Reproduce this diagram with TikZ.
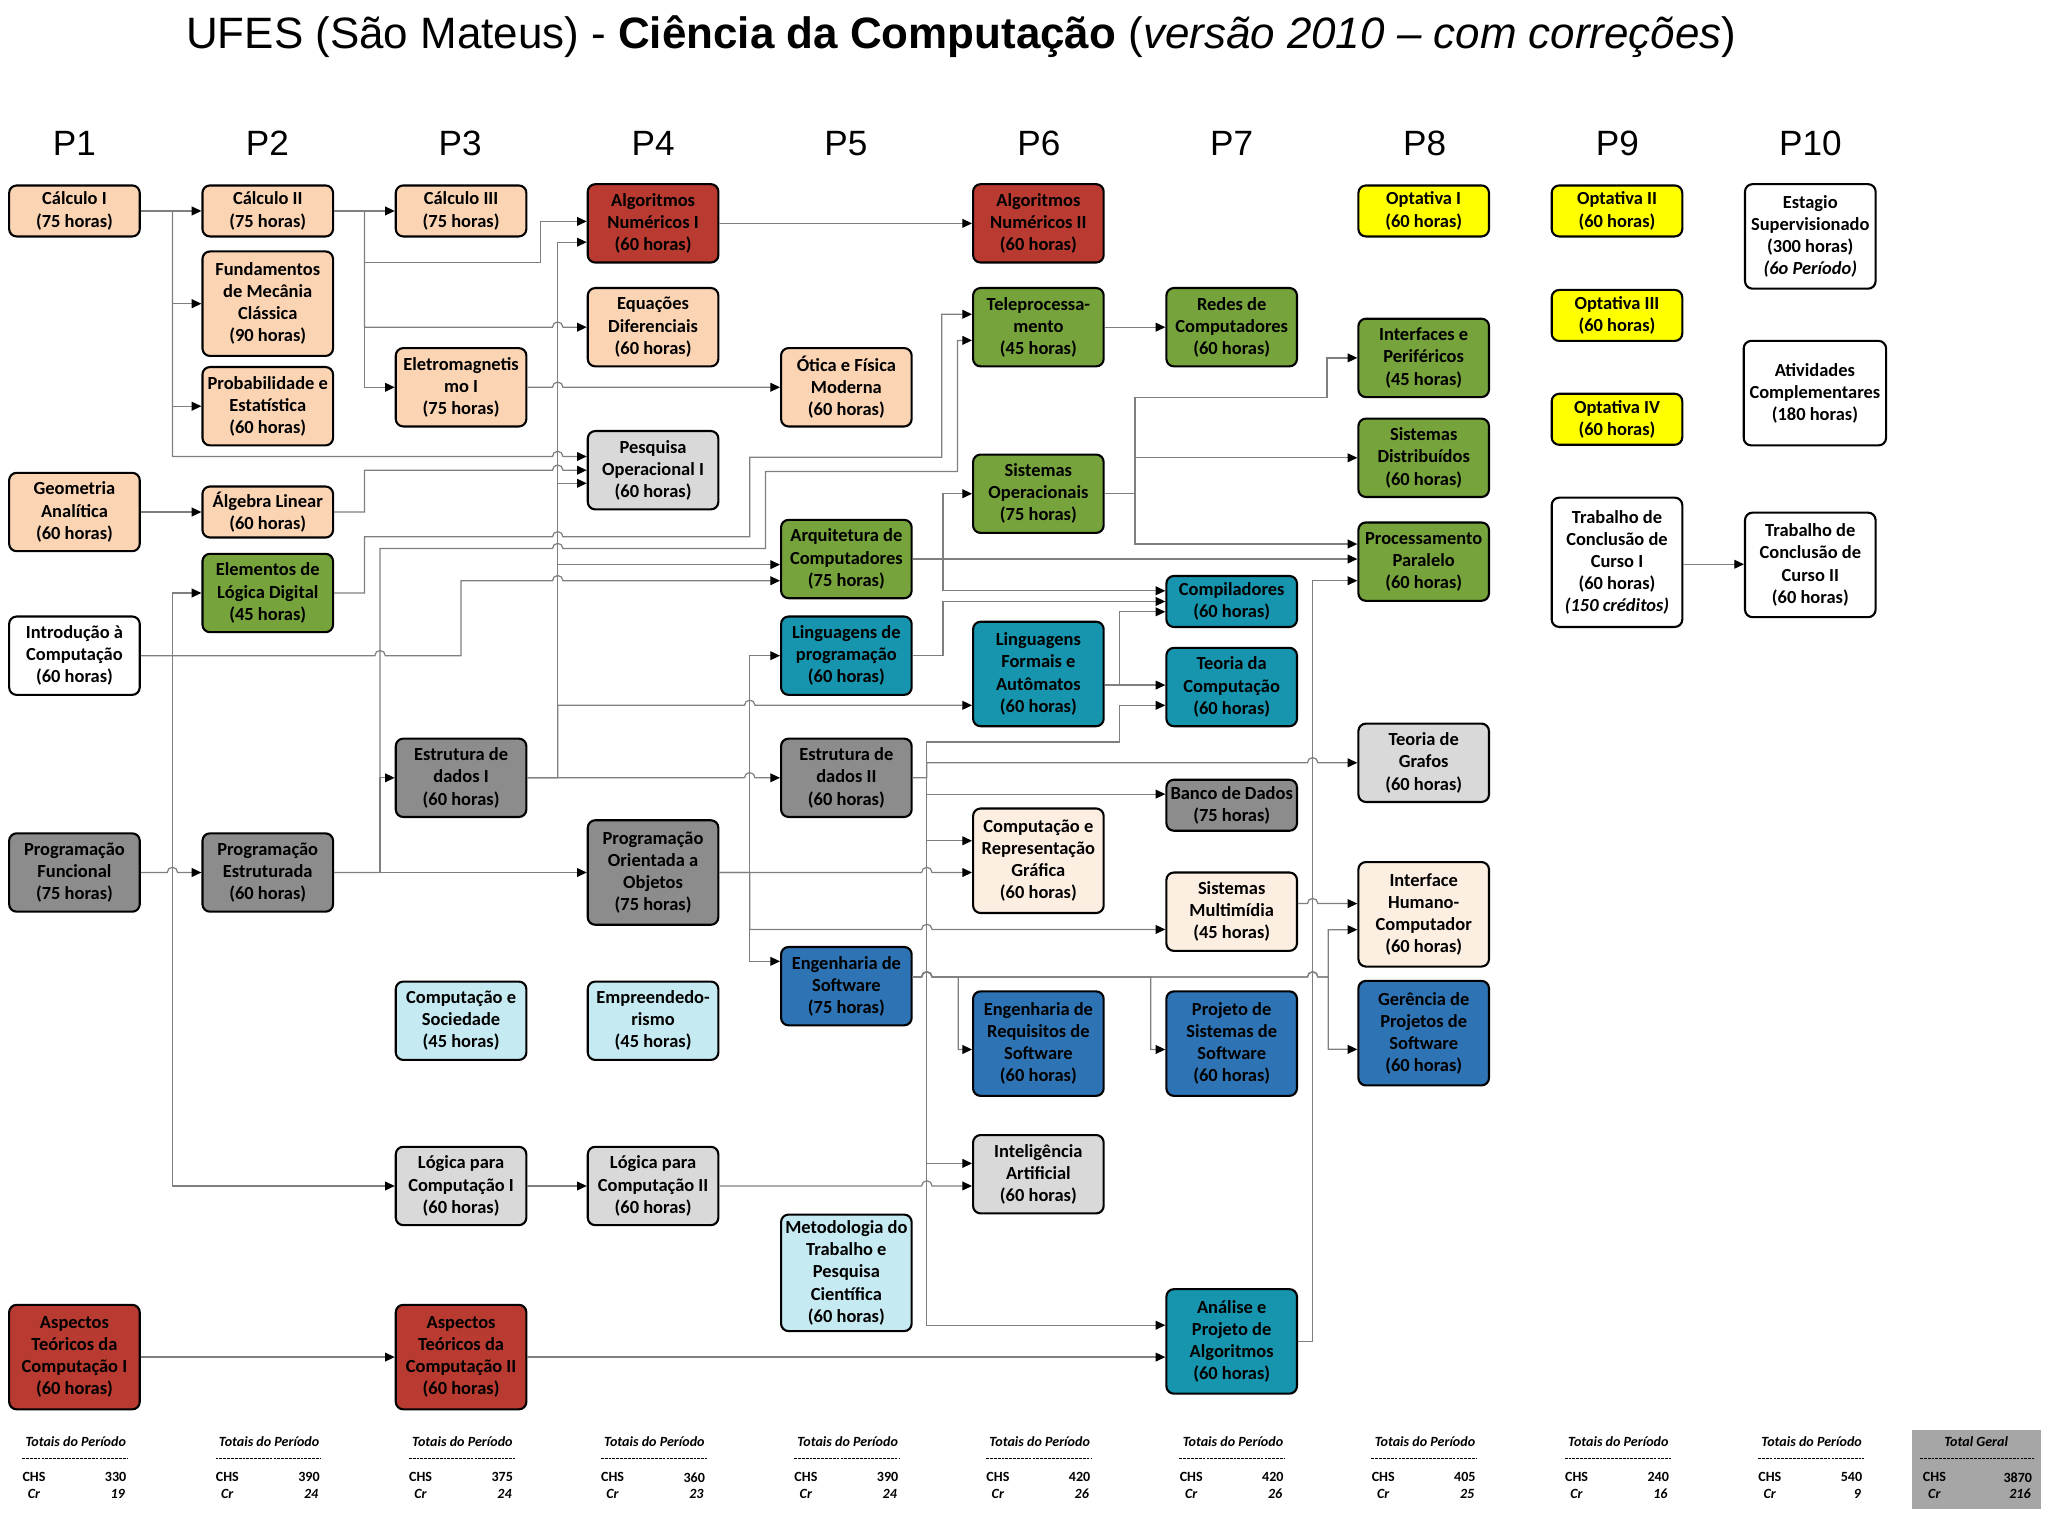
\documentclass[tikz,border=0pt]{standalone}
\usepackage{fontspec}
\setmainfont{Carlito}
\newfontfamily\headfont{Liberation Sans}
\usepackage{tikz}
\usetikzlibrary{
  positioning,
  arrows.meta
}
\definecolor{ccPeach}{HTML}{FBD4B4}
\definecolor{ccRed}{HTML}{B83A30}
\definecolor{ccGray}{HTML}{8C8C8C}
\definecolor{ccSilver}{HTML}{D9D9D9}
\definecolor{ccGreen}{HTML}{77A33C}
\definecolor{ccTeal}{HTML}{1794AE}
\definecolor{ccBlue}{HTML}{2E74B5}
\definecolor{ccYellow}{HTML}{FFFF00}
\definecolor{ccCyan}{HTML}{C6EAF1}
\definecolor{ccCream}{HTML}{FDEEE2}
\definecolor{ccLine}{HTML}{7F7F7F}
\definecolor{ccTotal}{HTML}{A6A6A6}
% small bridge where a connector jumps over another one
\newcommand{\hopover}[2]{-- (#1-4,#2) arc[start angle=180,end angle=360,radius=4]}

\begin{document}
\begin{tikzpicture}[
  x=0.02612cm, y=-0.02612cm,
  course/.style={
    rectangle, rounded corners=0.15cm,
    draw=black, line width=1.2pt, fill=#1,
    align=center, inner sep=1pt, minimum width=2.612cm,
    font=\fontsize{10.5}{12.6}\selectfont\bfseries
  },
  h2/.style={minimum height=1.02cm},
  h3/.style={minimum height=1.567cm},
  h4/.style={minimum height=2.09cm},
  h5/.style={minimum height=2.586cm},
  period/.style={font=\headfont\fontsize{20}{24}\selectfont},
  tot/.style={font=\fontsize{8}{9.6}\selectfont\bfseries, inner sep=0pt},
  sep/.style={line width=0.6pt, dash pattern=on 1.6pt off 0.6pt},
  conn/.style={draw=ccLine, line width=0.7pt, -{Triangle[length=5.5pt,width=5pt,color=black]}}
]
\useasboundingbox (0,0) rectangle (1568,1165);

 % Title and periods
 \node[font=\headfont\fontsize{25}{30}\selectfont] (title) at (736,28)
   {UFES (São Mateus) - \textbf{Ciência da Computação} (\textit{versão 2010 – com correções})};
 \foreach \i in {1,...,10}
   \node[period] (p\i) at ({57+147.67*(\i-1)},110) {P\i};

 % P1
 \node[course=ccPeach, h2]  (calc1) at (57,161.5) {Cálculo I\\(75 horas)};
 \node[course=ccPeach, h3]  (geo)   at (57,392)   {Geometria\\Analítica\\(60 horas)};
 \node[course=white, h3]    (intro) at (57,502)   {Introdução à\\Computação\\(60 horas)};
 \node[course=ccGray, h3]   (pfunc) at (57,668)   {Programação\\Funcional\\(75 horas)};
 \node[course=ccRed, h4]    (atc1)  at (57,1039)  {Aspectos\\Teóricos da\\Computação I\\(60 horas)};

 % P2
 \node[course=ccPeach, h2]  (calc2) at (205,161.5) {Cálculo II\\(75 horas)};
 \node[course=ccPeach, h4]  (fmc)   at (205,232.5) {Fundamentos\\de Mecânia\\Clássica\\(90 horas)};
 \node[course=ccPeach, h3]  (prob)  at (205,311)   {Probabilidade e\\Estatística\\(60 horas)};
 \node[course=ccPeach, h2]  (alg)   at (205,392)   {Álgebra Linear\\(60 horas)};
 \node[course=ccGreen, h3]  (eld)   at (205,454)   {Elementos de\\Lógica Digital\\(45 horas)};
 \node[course=ccGray, h3]   (pest)  at (205,668)   {Programação\\Estruturada\\(60 horas)};

 % P3
 \node[course=ccPeach, h2]  (calc3)  at (353,161.5) {Cálculo III\\(75 horas)};
 \node[course=ccPeach, h3]  (eletro) at (353,296.5) {Eletromagnetis\\mo I\\(75 horas)};
 \node[course=ccGray, h3]   (ed1)    at (353,595.5) {Estrutura de\\dados I\\(60 horas)};
 \node[course=ccCyan, h3]   (cs)     at (353,781.5) {Computação e\\Sociedade\\(45 horas)};
 \node[course=ccSilver, h3] (lc1)    at (353,908)   {Lógica para\\Computação I\\(60 horas)};
 \node[course=ccRed, h4]    (atc2)   at (353,1039)  {Aspectos\\Teóricos da\\Computação II\\(60 horas)};

 % P4
 \node[course=ccRed, h3]    (an1)  at (500,171)   {Algoritmos\\Numéricos I\\(60 horas)};
 \node[course=ccPeach, h3]  (eqd)  at (500,250.5) {Equações\\Diferenciais\\(60 horas)};
 \node[course=ccSilver, h3] (po1)  at (500,360)   {Pesquisa\\Operacional I\\(60 horas)};
 \node[course=ccGray, h4]   (poo)  at (500,668)   {Programação\\Orientada a\\Objetos\\(75 horas)};
 \node[course=ccCyan, h3]   (empr) at (500,781.5) {Empreendedo-\\rismo\\(45 horas)};
 \node[course=ccSilver, h3] (lc2)  at (500,908)   {Lógica para\\Computação II\\(60 horas)};

 % P5
 \node[course=ccPeach, h3]  (otica) at (648,296.5) {Ótica e Física\\Moderna\\(60 horas)};
 \node[course=ccGreen, h3]  (arq)   at (648,428)   {Arquitetura de\\Computadores\\(75 horas)};
 \node[course=ccTeal, h3]   (lp)    at (648,502)   {Linguagens de\\programação\\(60 horas)};
 \node[course=ccGray, h3]   (ed2)   at (648,595.5) {Estrutura de\\dados II\\(60 horas)};
 \node[course=ccBlue, h3]   (es)    at (648,755)   {Engenharia de\\Software\\(75 horas)};
 \node[course=ccCyan, minimum height=2.33cm] (met) at (648,974.5)
   {Metodologia do\\Trabalho e\\Pesquisa\\Científica\\(60 horas)};

 % P6
 \node[course=ccRed, h3]    (an2)  at (795,171)   {Algoritmos\\Numéricos II\\(60 horas)};
 \node[course=ccGreen, h3]  (tele) at (795,250.5) {Teleprocessa-\\mento\\(45 horas)};
 \node[course=ccGreen, h3]  (so)   at (795,378)   {Sistemas\\Operacionais\\(75 horas)};
 \node[course=ccTeal, h4]   (lfa)  at (795,516)   {Linguagens\\Formais e\\Autômatos\\(60 horas)};
 \node[course=ccCream, h4]  (crg)  at (795,659)   {Computação e\\Representação\\Gráfica\\(60 horas)};
 \node[course=ccBlue, h4]   (ers)  at (795,799)   {Engenharia de\\Requisitos de\\Software\\(60 horas)};
 \node[course=ccSilver, h3] (ia)   at (795,899)   {Inteligência\\Artificial\\(60 horas)};

 % P7
 \node[course=ccGreen, h3]  (redes) at (943,250.5) {Redes de\\Computadores\\(60 horas)};
 \node[course=ccTeal, h2]   (comp)  at (943,460.5) {Compiladores\\(60 horas)};
 \node[course=ccTeal, h3]   (tc)    at (943,526)   {Teoria da\\Computação\\(60 horas)};
 \node[course=ccGray, h2]   (bd)    at (943,616.5) {Banco de Dados\\(75 horas)};
 \node[course=ccCream, h3]  (sm)    at (943,698)   {Sistemas\\Multimídia\\(45 horas)};
 \node[course=ccBlue, h4]   (pss)   at (943,799)   {Projeto de\\Sistemas de\\Software\\(60 horas)};
 \node[course=ccTeal, h4]   (apa)   at (943,1027)  {Análise e\\Projeto de\\Algoritmos\\(60 horas)};

 % P8
 \node[course=ccYellow, h2] (opt1) at (1090,161.5) {Optativa I\\(60 horas)};
 \node[course=ccGreen, h3]  (ip)   at (1090,274)   {Interfaces e\\Periféricos\\(45 horas)};
 \node[course=ccGreen, h3]  (sd)   at (1090,350.5) {Sistemas\\Distribuídos\\(60 horas)};
 \node[course=ccGreen, h3]  (pp)   at (1090,430)   {Processamento\\Paralelo\\(60 horas)};
 \node[course=ccSilver, h3] (tg)   at (1090,584)   {Teoria de\\Grafos\\(60 horas)};
 \node[course=ccCream, h4]  (ihc)  at (1090,700)   {Interface\\Humano-\\Computador\\(60 horas)};
 \node[course=ccBlue, h4]   (gps)  at (1090,791)   {Gerência de\\Projetos de\\Software\\(60 horas)};

 % P9
 \node[course=ccYellow, h2] (opt2) at (1238,161.5) {Optativa II\\(60 horas)};
 \node[course=ccYellow, h2] (opt3) at (1238,241.5) {Optativa III\\(60 horas)};
 \node[course=ccYellow, h2] (opt4) at (1238,321)   {Optativa IV\\(60 horas)};
 \node[course=white, h5]    (tcc1) at (1238,430.5)
   {Trabalho de\\Conclusão de\\Curso I\\(60 horas)\\\textit{(150 créditos)}};

 % P10
 \node[course=white, h4] (est)  at (1386,181) {Estagio\\Supervisionado\\(300 horas)\\\textit{(6o Período)}};
 \node[course=white, h4, minimum width=2.847cm] (ativ) at (1389.5,301) {Atividades\\Complementares\\(180 horas)};
 \node[course=white, h4] (tcc2) at (1386,432.5) {Trabalho de\\Conclusão de\\Curso II\\(60 horas)};

 % Calculo / fisica
 \draw[conn] (calc1) -- (calc2);
 \draw[conn] (calc1.east) -- (132,161.5) |- (fmc.west);
 \draw[conn] (calc1.east) -- (132,161.5) |- (prob.west);
 \draw[conn] (calc1.east) -- (132,161.5) -- (132,349.5) \hopover{427}{349.5} -- (po1.west |- 0,349.5);
 \draw[conn] (calc2) -- (calc3);
 \draw[conn] (calc2.east) -- (279,161.5) -- (279,201) -- (414,201) -- (414,169.5) -- (an1.west |- 0,169.5);
 \draw[conn] (calc2.east) -- (279,161.5) -- (279,250.5) \hopover{427}{250.5} -- (eqd.west);
 \draw[conn] (calc2.east) -- (279,161.5) |- (eletro.west);
 \draw[conn] (eletro.east) \hopover{427}{296.5} -- (otica.west);
 \draw[conn] (geo) -- (alg);
 \draw[conn] (alg.east) -- (279,392) -- (279,360) \hopover{427}{360} -- (po1.west);

 % Logica digital / programacao
 \draw[conn] (eld.east) -- (279,454) -- (279,411) \hopover{427}{411} -- (574,411) -- (574,350)
   -- (721,350) -- (721,240.6) -- (tele.west |- 0,240.6);
 \draw[conn] (pest.east) -- (291,668) -- (291,420) \hopover{427}{420} -- (586,420) -- (586,361)
   -- (733,361) -- (733,260.6) -- (tele.west |- 0,260.6);
 \draw[conn] (pest.east) -- (291,668) |- (ed1.west);
 \draw[conn] (pest) -- (poo);
 \draw[conn] (pfunc.east) \hopover{132}{668} -- (pest.west);
 \draw[conn] (intro.east) -- (132,502) |- (eld.west);
 \draw[conn] (intro.east) -- (132,502) |- (lc1.west);
 \draw[conn] (intro.east) \hopover{291}{502} -- (353,502) -- (353,444.6) \hopover{427}{444.6} -- (arq.west |- 0,444.6);

 % Estrutura de dados I
 \draw[conn] (ed1.east) -- (427,595.5) -- (427,185.4) -- (an1.west |- 0,185.4);
 \draw[conn] (ed1.east) -- (427,595.5) -- (427,370) -- (po1.west |- 0,370);
 \draw[conn] (ed1.east) -- (427,595.5) -- (427,432.3) -- (arq.west |- 0,432.3);
 \draw[conn] (ed1.east) -- (427,595.5) -- (427,540) \hopover{574}{540} -- (lfa.west |- 0,540);
 \draw[conn] (ed1.east) \hopover{574}{595.5} -- (ed2.west);

 % Orientada a objetos
 \draw[conn] (poo.east) -- (574,668) |- (lp.west);
 \draw[conn] (poo.east) -- (574,668) |- (es.west |- 0,736);
 \draw[conn] (poo.east) \hopover{709.6}{668} -- (crg.west |- 0,668);
 \draw[conn] (poo.east) -- (574,668) -- (574,711.6) \hopover{709.6}{711.6} -- (sm.west |- 0,711.6);

 % Arquitetura / linguagens
 \draw[conn] (arq.east) -- (pp.west |- arq.east);
 \draw[conn] (arq.east) -- (722,428) |- (so.west);
 \draw[conn] (arq.east) -- (722,428) |- (comp.west |- 0,452.3);
 \draw[conn] (lp.east) -- (722,502) |- (comp.west);
 \draw[conn] (lfa.east |- 0,524.5) -- (tc.west |- 0,524.5);
 \draw[conn] (lfa.east |- 0,524.5) -- (857,524.5) -- (857,468.4) -- (comp.west |- 0,468.4);

 % Estrutura de dados II
 \draw[conn] (ed2.east) -- (709.6,595.5) -- (709.6,568) -- (857,568) -- (857,540) -- (tc.west |- 0,540);
 \draw[conn] (ed2.east) -- (709.6,595.5) -- (709.6,584) \hopover{1005}{584} -- (tg.west);
 \draw[conn] (ed2.east) -- (709.6,595.5) |- (bd.west |- 0,608);
 \draw[conn] (ed2.east) -- (709.6,595.5) |- (crg.west |- 0,643.7);
 \draw[conn] (ed2.east) -- (709.6,595.5) |- (ia.west |- 0,890.7);
 \draw[conn] (ed2.east) -- (709.6,595.5) |- (apa.west |- 0,1014.6);

 % Sistemas operacionais / algoritmos
 \draw[conn] (so.east) -- (869,378) -- (869,304.4) -- (1016,304.4) |- (ip.west);
 \draw[conn] (so.east) -- (869,378) |- (sd.west);
 \draw[conn] (so.east) -- (869,378) |- (pp.west |- 0,416.5);
 \draw[conn] (apa.east) -- (1005,1027) |- (pp.west |- 0,444.6);
 \draw[conn] (atc1) -- (atc2);
 \draw[conn] (atc2) -- (apa.west |- atc2);
 \draw[conn] (an1) -- (an2);
 \draw[conn] (tele) -- (redes);
 \draw[conn] (lc1) -- (lc2);
 \draw[conn] (lc2.east) \hopover{709.6}{908} -- (ia.west |- 0,908);
 \draw[conn] (tcc1.east |- 0,432) -- (tcc2.west |- 0,432);

 % Engenharia de software
 \draw[conn] (sm.east |- 0,691.8) \hopover{1005}{691.8} -- (ihc.west |- 0,691.8);
 \draw[conn] (es.east |- 0,748) \hopover{709.6}{748} -- (733.6,748) |- (ers.west |- 0,803.5);
 \draw[conn] (es.east |- 0,748) \hopover{709.6}{748} -- (881,748) |- (pss.west |- 0,803.5);
 \draw[conn] (es.east |- 0,748) \hopover{709.6}{748} \hopover{1005}{748} -- (1017,748) |- (ihc.west |- 0,711.8);
 \draw[conn] (es.east |- 0,748) \hopover{709.6}{748} \hopover{1005}{748} -- (1017,748) |- (gps.west |- 0,803.4);

 % Totals
 \foreach \cx/\chs/\crd [count=\i] in {57/330/19, 205/390/24, 353/375/24, 500/360/23, 648/390/24,
     795/420/26, 943/420/26, 1090/405/25, 1238/240/16, 1386/540/9} {
   \node[tot] (tot\i) at (\cx+1,1104) {\textit{Totais do Período}};
   \draw[sep] (\cx-40,1117) -- (\cx+41,1117);
   \node[tot, anchor=west] (chs\i) at (\cx-40,1131) {CHS};
   \node[tot, anchor=east] (chsv\i) at (\cx+40,1131) {\chs};
   \node[tot, anchor=west] (cr\i) at (\cx-36,1144) {\textit{Cr}};
   \node[tot, anchor=east] (crv\i) at (\cx+39,1144) {\textit{\crd}};
 }
 \node[fill=ccTotal, minimum width=2.586cm, minimum height=1.567cm, inner sep=0pt] (geral) at (1513.5,1125) {};
 \node[tot] (totg) at (1513,1104) {\textit{Total Geral}};
 \draw[sep] (1470,1117) -- (1557,1117);
 \node[tot, anchor=west] (chsg) at (1472,1131) {CHS};
 \node[tot, anchor=east] (chsvg) at (1556,1131) {3870};
 \node[tot, anchor=west] (crg) at (1476,1144) {\textit{Cr}};
 \node[tot, anchor=east] (crvg) at (1555,1144) {\textit{216}};
\end{tikzpicture}
\end{document}
